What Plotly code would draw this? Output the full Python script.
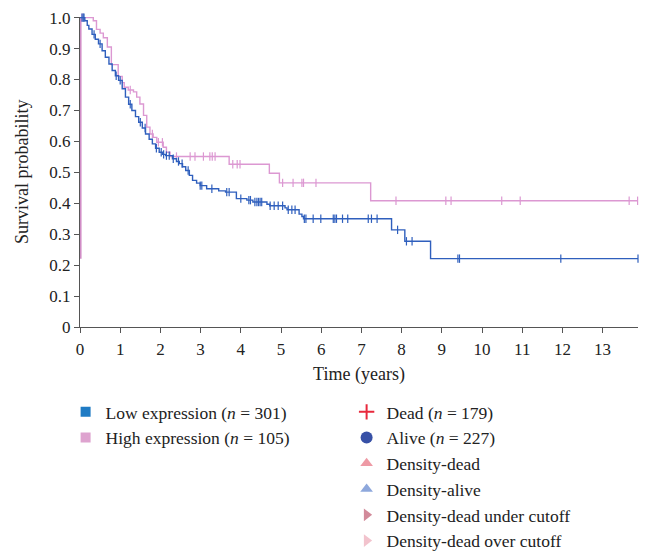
import numpy as np
import plotly.graph_objects as go

# ---- data ----
low_t = [0, 0.12, 0.18, 0.22, 0.30, 0.38, 0.46, 0.55, 0.63, 0.72, 0.80, 0.88, 0.96, 1.05, 1.13, 1.21,
         1.29, 1.38, 1.46, 1.55, 1.63, 1.72, 1.80, 1.88, 1.97, 2.05, 2.13, 2.30, 2.40, 2.47, 2.55, 2.63,
         2.72, 2.80, 2.90, 2.99, 3.15, 3.45, 3.62, 3.89, 4.15, 4.30, 4.65, 4.72, 5.10, 5.15, 5.45, 5.52,
         5.56, 7.75, 8.08, 8.72, 13.88]
low_s = [1.0, 0.99, 0.975, 0.963, 0.946, 0.93, 0.915, 0.893, 0.872, 0.85, 0.829, 0.812, 0.797, 0.77,
         0.743, 0.72, 0.70, 0.68, 0.662, 0.643, 0.624, 0.607, 0.592, 0.578, 0.565, 0.558, 0.554, 0.544,
         0.535, 0.528, 0.518, 0.506, 0.49, 0.474, 0.465, 0.457, 0.447, 0.44, 0.436, 0.415, 0.41, 0.404,
         0.397, 0.392, 0.385, 0.379, 0.365, 0.357, 0.35, 0.314, 0.277, 0.221, 0.221]
low_cens = [0.05, 0.08, 0.10, 0.35, 0.50, 0.90, 1.00, 1.25, 1.50, 1.62, 1.90, 2.02, 2.08, 2.15, 2.22,
            2.32, 2.45, 2.54, 2.69, 2.99, 3.03, 3.28, 3.65, 3.71, 4.00, 4.20, 4.24, 4.35, 4.40, 4.44,
            4.48, 4.52, 4.73, 4.83, 4.93, 5.04, 5.18, 5.27, 5.35, 5.58, 5.62, 5.80, 5.99, 6.30, 6.34,
            6.38, 6.53, 6.66, 7.17, 7.25, 7.39, 7.90, 8.12, 8.26, 9.40, 9.44, 11.96, 13.88]

high_t = [0, 0.33, 0.41, 0.50, 0.58, 0.68, 0.78, 0.95, 1.05, 1.10, 1.20, 1.33, 1.41, 1.49, 1.58, 1.66,
          1.74, 1.82, 1.91, 2.07, 2.15, 2.24, 3.71, 4.71, 4.96, 7.23, 13.88]
high_s = [1.0, 0.99, 0.962, 0.95, 0.935, 0.905, 0.848, 0.81, 0.79, 0.775, 0.766, 0.76, 0.743, 0.721,
          0.684, 0.646, 0.624, 0.613, 0.597, 0.581, 0.565, 0.551, 0.526, 0.497, 0.466, 0.408, 0.408]
high_cens = [0.05, 1.25, 1.80, 1.95, 2.05, 2.40, 2.74, 2.86, 3.07, 3.23, 3.29, 3.36, 3.80, 3.91, 3.98,
             5.04, 5.30, 5.52, 5.56, 5.87, 7.86, 9.10, 9.23, 10.49, 10.95, 13.66, 13.87]

x_ticks = list(range(0, 14))
y_ticks = [0, 0.1, 0.2, 0.3, 0.4, 0.5, 0.6, 0.7, 0.8, 0.9, 1.0]
y_ticklabels = ["0", "0.1", "0.2", "0.3", "0.4", "0.5", "0.6", "0.7", "0.8", "0.9", "1.0"]

legend1 = [("Low expression (<i>n</i> = 301)", "#1f7bc4", "square"),
           ("High expression (<i>n</i> = 105)", "#dea3cf", "square")]
legend2 = [("Dead (<i>n</i> = 179)", "#e8283c", "cross-thin"),
           ("Alive (<i>n</i> = 227)", "#3750a6", "circle"),
           ("Density-dead", "#ee9aa5", "triangle-up"),
           ("Density-alive", "#8ea8dc", "triangle-up"),
           ("Density-dead under cutoff", "#d28a9a", "triangle-right"),
           ("Density-dead over cutoff", "#f2c3cd", "triangle-right")]

BLUE = "#2f5fbd"
PINK = "#dc98d2"


def step_lookup(times, surv, q):
    idx = np.searchsorted(np.array(times), np.array(q), side="right") - 1
    return list(np.array(surv)[idx])


fig = go.Figure()

# artifact vertical line at t=0
fig.add_trace(go.Scatter(x=[0.02, 0.02], y=[1.0, low_s[-1]], mode="lines",
                         line=dict(color="#cf88c4", width=1.5), showlegend=False, hoverinfo="skip"))

fig.add_trace(go.Scatter(x=high_t, y=high_s, mode="lines", line=dict(color=PINK, width=1.4, shape="hv"),
                         showlegend=False, cliponaxis=False))
fig.add_trace(go.Scatter(x=high_cens, y=step_lookup(high_t, high_s, high_cens), mode="markers",
                         marker=dict(symbol="line-ns", size=6, line=dict(color=PINK, width=1.2)),
                         showlegend=False, cliponaxis=False))

fig.add_trace(go.Scatter(x=low_t, y=low_s, mode="lines", line=dict(color=BLUE, width=1.4, shape="hv"),
                         showlegend=False, cliponaxis=False))
fig.add_trace(go.Scatter(x=low_cens, y=step_lookup(low_t, low_s, low_cens), mode="markers",
                         marker=dict(symbol="line-ns", size=6, line=dict(color=BLUE, width=1.2)),
                         showlegend=False, cliponaxis=False))

for name, col, sym in legend1:
    fig.add_trace(go.Scatter(x=[None], y=[None], mode="markers", name=name, legend="legend",
                             marker=dict(symbol=sym, color=col, size=10, line=dict(color=col, width=0))))
for name, col, sym in legend2:
    fig.add_trace(go.Scatter(x=[None], y=[None], mode="markers", name=name, legend="legend2",
                             marker=dict(symbol=sym, color=col, size=12 if sym == "circle" else 11,
                                         line=dict(color=col, width=2 if sym == "cross-thin" else 0))))

FONT = "Liberation Serif"
axis_common = dict(showgrid=False, zeroline=False, showline=True, linecolor="#555555", linewidth=1,
                   ticks="outside", ticklen=5, tickcolor="#555555", automargin=False,
                   ticklabeloverflow="allow",
                   tickfont=dict(family=FONT, size=17, color="#222222"))

fig.update_layout(
    width=640, height=543,
    margin=dict(l=72, r=10, t=9, b=224, autoexpand=False),
    paper_bgcolor="white", plot_bgcolor="white",
    font=dict(family=FONT, size=17, color="#222222"),
    xaxis=dict(range=[0, 13.88], tickvals=x_ticks, ticklabelstandoff=2, **axis_common,
               title=dict(text="Time (years)", font=dict(family=FONT, size=18), standoff=8)),
    yaxis=dict(range=[0, 1.002], tickvals=y_ticks, ticktext=y_ticklabels, **axis_common),
    annotations=[dict(text="Survival probability", xref="paper", yref="paper", x=-0.1039, y=0.5,
                      xanchor="center", yanchor="middle", textangle=-90, showarrow=False,
                      font=dict(family=FONT, size=18, color="#222222"))],
    legend=dict(x=-0.0258, y=-0.216, xanchor="left", yanchor="top",
                bgcolor="rgba(0,0,0,0)", font=dict(family=FONT, size=17.5), tracegroupgap=0, itemwidth=30),
    legend2=dict(x=0.4778, y=-0.216, xanchor="left", yanchor="top",
                 bgcolor="rgba(0,0,0,0)", font=dict(family=FONT, size=17.5), tracegroupgap=0, itemwidth=30),
)

fig.write_html("out.html")
